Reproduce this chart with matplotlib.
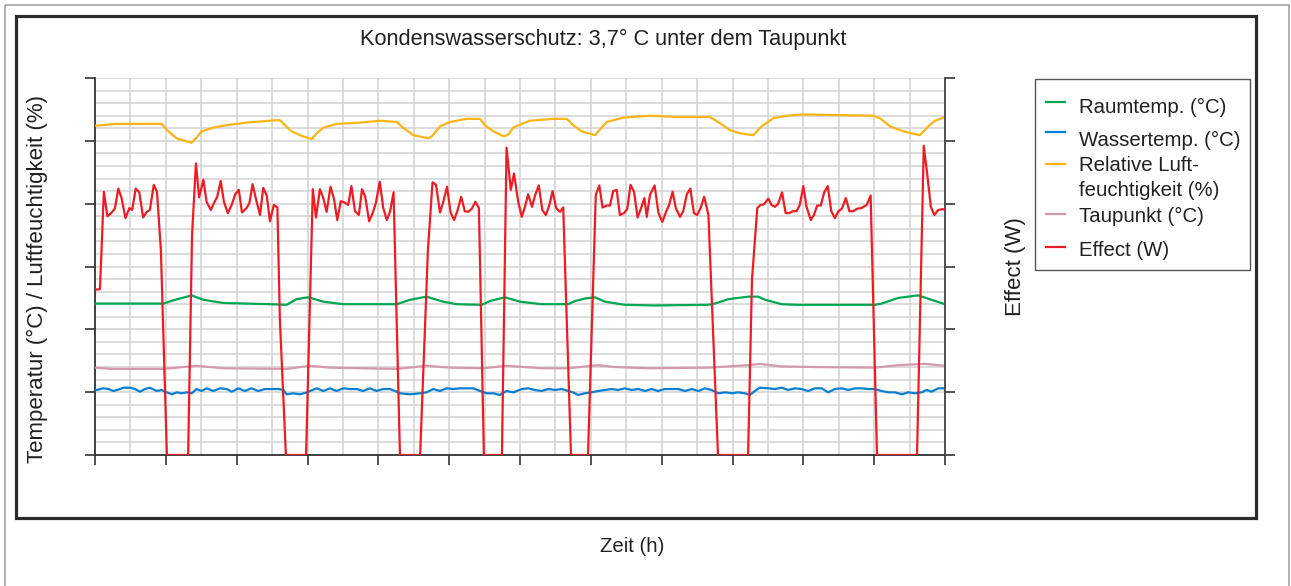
import matplotlib
matplotlib.use("Agg")
import matplotlib.pyplot as plt
from matplotlib.patches import Rectangle
from matplotlib.lines import Line2D
from matplotlib.ticker import MultipleLocator

plt.rcParams['font.family'] = ['Liberation Sans', 'DejaVu Sans']

# ---------------- data ----------------
title = "Kondenswasserschutz: 3,7° C unter dem Taupunkt"
xlabel = "Zeit (h)"
ylabel_left = "Temperatur (°C) / Luftfeuchtigkeit (%)"
ylabel_right = "Effect (W)"
labels = ["Raumtemp. (°C)", "Wassertemp. (°C)", "Relative Luft-\nfeuchtigkeit (%)",
          "Taupunkt (°C)", "Effect (W)"]

raum_h = [0.00, 1.93, 2.26, 2.73, 3.06, 3.62, 4.94, 5.41, 5.69, 6.02, 6.45, 7.01, 8.52, 8.89,
          9.36, 9.83, 10.21, 10.92, 11.15, 11.58, 12.00, 12.61, 13.36, 13.55, 13.83, 14.12,
          14.40, 14.96, 15.81, 17.32, 17.50, 17.88, 18.44, 18.73, 18.92, 19.39, 19.86, 22.02,
          22.21, 22.68, 23.24, 23.62, 24.00]
raum_v = [24.1, 24.1, 24.7, 25.4, 24.7, 24.2, 24.0, 23.9, 24.8, 25.1, 24.4, 24.0, 24.0, 24.7,
          25.2, 24.4, 24.0, 23.9, 24.5, 25.1, 24.4, 24.0, 24.0, 24.5, 24.9, 25.1, 24.4, 23.9,
          23.8, 23.9, 24.1, 24.8, 25.2, 25.2, 24.7, 24.0, 23.9, 23.9, 24.1, 25.0, 25.4, 24.7,
          24.0]

wasser_h = [0.00, 0.05, 0.23, 0.38, 0.52, 0.71, 0.80, 0.99, 1.13, 1.27, 1.41, 1.55, 1.74, 1.88,
            1.98, 2.17, 2.31, 2.45, 2.59, 2.73, 2.87, 3.01, 3.15, 3.34, 3.53, 3.72, 3.86, 4.05,
            4.23, 4.42, 4.61, 4.80, 4.99, 5.18, 5.32, 5.41, 5.60, 5.79, 5.98, 6.07, 6.26, 6.45,
            6.63, 6.82, 7.01, 7.20, 7.39, 7.57, 7.76, 7.95, 8.14, 8.33, 8.47, 8.61, 8.89, 9.18,
            9.36, 9.55, 9.74, 9.93, 10.12, 10.30, 10.49, 10.68, 10.87, 11.06, 11.25, 11.43,
            11.62, 11.81, 11.86, 12.05, 12.23, 12.42, 12.61, 12.80, 12.99, 13.18, 13.36, 13.50,
            13.64, 13.83, 14.02, 14.21, 14.40, 14.59, 14.77, 14.96, 15.15, 15.34, 15.53, 15.72,
            15.90, 16.09, 16.28, 16.47, 16.66, 16.85, 17.04, 17.22, 17.41, 17.60, 17.79, 17.98,
            18.16, 18.35, 18.49, 18.63, 18.77, 19.01, 19.20, 19.39, 19.57, 19.76, 19.95, 20.14,
            20.33, 20.52, 20.70, 20.89, 21.08, 21.27, 21.46, 21.65, 21.83, 22.02, 22.21, 22.40,
            22.59, 22.78, 22.96, 23.15, 23.34, 23.48, 23.62, 23.81, 24.00]
wasser_v = [10.40, 10.35, 10.61, 10.50, 10.19, 10.50, 10.71, 10.71, 10.50, 10.08, 10.50, 10.71,
            10.19, 10.35, 10.08, 9.66, 9.97, 9.82, 9.97, 9.82, 10.50, 10.19, 10.61, 10.19, 10.61,
            10.50, 10.08, 10.61, 10.19, 10.61, 10.19, 10.50, 10.50, 10.50, 10.35, 9.66, 9.82,
            9.66, 9.97, 10.19, 10.61, 10.19, 10.61, 10.19, 10.61, 10.50, 10.50, 10.19, 10.61,
            10.19, 10.50, 10.50, 10.19, 9.82, 9.66, 9.82, 9.97, 10.50, 10.19, 10.61, 10.50,
            10.61, 10.61, 10.61, 10.19, 9.82, 9.82, 9.55, 10.19, 9.97, 10.08, 10.50, 10.61,
            10.35, 10.19, 10.50, 10.35, 10.50, 10.19, 9.97, 9.55, 9.82, 9.97, 10.19, 10.35,
            10.50, 10.35, 10.61, 10.35, 10.50, 10.19, 10.50, 10.19, 10.50, 10.50, 10.50, 10.19,
            10.50, 10.19, 10.61, 10.35, 9.82, 9.97, 9.82, 9.97, 9.82, 9.55, 10.19, 10.71, 10.61,
            10.50, 10.71, 10.35, 10.61, 10.50, 10.19, 10.61, 10.61, 9.97, 10.50, 10.61, 10.35,
            10.61, 10.61, 10.50, 10.50, 10.19, 9.97, 9.97, 9.66, 9.97, 9.82, 9.97, 10.35, 10.08,
            10.61, 10.61]

feuchte_h = [0.00, 0.61, 1.88, 2.07, 2.31, 2.59, 2.73, 2.85, 3.01, 3.34, 3.72, 4.28, 4.94, 5.22,
             5.36, 5.55, 5.88, 6.12, 6.26, 6.45, 6.82, 7.48, 8.05, 8.52, 8.70, 8.99, 9.41, 9.51,
             9.74, 10.02, 10.49, 10.87, 11.01, 11.25, 11.55, 11.67, 11.81, 12.00, 12.28, 12.94,
             13.32, 13.50, 13.74, 14.12, 14.21, 14.45, 14.92, 15.67, 16.42, 17.36, 17.65, 17.93,
             18.21, 18.59, 18.82, 19.15, 19.53, 20.00, 20.94, 21.97, 22.16, 22.45, 22.82, 23.29,
             23.53, 23.72, 24.00]
feuchte_v = [52.4, 52.7, 52.7, 51.5, 50.4, 49.9, 49.7, 50.4, 51.5, 52.1, 52.5, 52.9, 53.2, 53.3,
             52.5, 51.5, 50.7, 50.3, 51.2, 52.1, 52.7, 52.9, 53.2, 53.0, 52.1, 50.9, 50.4, 50.7,
             52.3, 53.0, 53.5, 53.5, 52.5, 51.5, 50.7, 51.0, 52.1, 52.6, 53.2, 53.5, 53.5, 52.5,
             51.5, 50.9, 51.5, 53.0, 53.7, 54.0, 53.8, 53.8, 52.8, 51.7, 51.2, 50.9, 52.3, 53.6,
             54.0, 54.2, 54.1, 54.0, 53.6, 52.3, 51.5, 50.9, 52.3, 53.2, 53.8]

tau_h = [0.00, 0.48, 1.93, 2.87, 3.62, 5.41, 6.07, 6.63, 8.52, 9.36, 10.02, 10.96, 11.62, 12.61,
         13.36, 14.21, 14.68, 15.62, 17.32, 18.44, 18.77, 19.39, 20.33, 22.02, 22.68, 23.43, 24.00]
tau_v = [13.9, 13.7, 13.7, 14.2, 13.8, 13.7, 14.2, 13.9, 13.7, 14.2, 13.9, 13.8, 14.2, 13.8,
         13.8, 14.3, 14.0, 13.8, 13.9, 14.3, 14.5, 14.1, 14.0, 13.9, 14.3, 14.5, 14.2]

effect_h = [0.00, 0.14, 0.25, 0.35, 0.44, 0.56, 0.66, 0.75, 0.86, 0.97, 1.05, 1.15, 1.25, 1.36,
            1.46, 1.55, 1.66, 1.75, 1.86, 2.03, 2.63, 2.74, 2.85, 2.94, 3.06, 3.15, 3.27, 3.36,
            3.45, 3.55, 3.64, 3.75, 3.86, 3.96, 4.06, 4.15, 4.28, 4.36, 4.45, 4.55, 4.66, 4.75,
            4.85, 4.94, 5.05, 5.15, 5.22, 5.39, 5.96, 6.15, 6.24, 6.35, 6.45, 6.54, 6.65, 6.75,
            6.84, 6.94, 7.04, 7.15, 7.24, 7.34, 7.45, 7.54, 7.63, 7.74, 7.84, 7.93, 8.04, 8.14,
            8.24, 8.33, 8.43, 8.61, 9.18, 9.40, 9.53, 9.63, 9.74, 9.83, 9.94, 10.04, 10.14, 10.23,
            10.34, 10.44, 10.54, 10.64, 10.74, 10.84, 10.98, 11.49, 11.62, 11.74, 11.83, 11.95,
            12.05, 12.14, 12.23, 12.34, 12.43, 12.53, 12.63, 12.73, 12.83, 12.92, 13.02, 13.13,
            13.22, 13.44, 13.92, 14.14, 14.24, 14.33, 14.45, 14.54, 14.63, 14.73, 14.82, 14.94,
            15.03, 15.12, 15.22, 15.32, 15.42, 15.51, 15.58, 15.67, 15.80, 15.91, 16.02, 16.11,
            16.21, 16.31, 16.40, 16.52, 16.61, 16.71, 16.81, 16.91, 17.00, 17.10, 17.20, 17.32,
            17.59, 18.44, 18.55, 18.70, 18.79, 18.89, 19.01, 19.10, 19.20, 19.29, 19.40, 19.50,
            19.60, 19.70, 19.81, 19.90, 20.00, 20.09, 20.21, 20.30, 20.39, 20.49, 20.59, 20.69,
            20.79, 20.89, 20.99, 21.09, 21.20, 21.30, 21.41, 21.52, 21.64, 21.79, 21.90, 22.08,
            23.21, 23.40, 23.50, 23.60, 23.70, 23.81, 23.91, 24.00]
effect_w = [26.3, 26.4, 41.9, 38.0, 38.4, 39.2, 42.4, 40.9, 37.7, 39.3, 39.0, 42.4, 41.8, 37.8,
            38.7, 39.0, 43.0, 41.9, 32.6, 0, 0, 35.0, 46.4, 41.0, 43.8, 40.3, 39.0, 40.1, 41.1,
            43.6, 40.3, 38.5, 39.8, 41.5, 42.2, 38.6, 39.3, 40.1, 43.1, 40.6, 38.2, 42.5, 41.3,
            37.2, 39.8, 39.4, 21.5, 0, 0, 42.3, 37.8, 42.3, 40.8, 38.7, 42.7, 40.7, 37.4, 40.4,
            40.2, 39.8, 42.8, 38.8, 38.2, 42.3, 41.1, 37.2, 38.5, 40.1, 43.5, 39.3, 37.4, 38.7,
            41.8, 0, 0, 32.6, 43.4, 43.0, 38.6, 40.2, 42.7, 38.6, 37.4, 38.8, 41.1, 38.8, 38.7,
            39.2, 40.3, 39.3, 0, 0, 48.9, 42.2, 44.8, 40.3, 37.9, 39.5, 41.5, 39.5, 41.4, 42.9,
            39.0, 38.2, 39.8, 42.0, 39.3, 38.7, 39.4, 0, 0, 41.4, 42.9, 39.4, 39.7, 39.7, 42.0,
            42.2, 38.2, 38.5, 39.2, 43.0, 41.9, 37.8, 39.3, 40.9, 37.9, 41.4, 42.9, 38.5, 37.1,
            38.5, 39.8, 41.9, 39.3, 37.9, 38.8, 41.5, 42.4, 38.5, 38.2, 39.3, 41.1, 38.2, 0, 0,
            27.9, 39.3, 39.8, 39.9, 40.8, 39.8, 39.5, 40.0, 41.8, 38.5, 38.5, 38.8, 38.8, 39.8,
            42.8, 39.5, 37.4, 38.2, 39.7, 39.7, 41.8, 42.8, 38.8, 37.7, 38.8, 39.2, 40.9, 38.8,
            38.8, 39.2, 39.3, 39.8, 41.3, 0, 0, 49.2, 44.6, 39.5, 38.2, 39.0, 39.1, 39.1]

# ---------------- styling ----------------
C_GREEN = "#00a651"
C_BLUE = "#0a7ed0"
C_ORANGE = "#fbb416"
C_PINK = "#d39aad"
C_RED = "#ec1c24"
C_TEXT = "#231f20"
GRID = "#d2d2d2"
FS = 14.7
FS_TITLE = 15.7
FS_YLAB = 16.0
LW = 1.6

W, H = 1291, 586
fig = plt.figure(figsize=(W / 100, H / 100), dpi=100)
fig.patch.set_facecolor("white")

L, R, T, B = 95, 945, 78, 455
ax = fig.add_axes([L / W, 1 - B / H, (R - L) / W, (B - T) / H])
ax2 = ax.twinx()

ax.plot(raum_h, raum_v, color=C_GREEN, lw=LW, zorder=3)
ax.plot(wasser_h, wasser_v, color=C_BLUE, lw=LW, zorder=3)
ax.plot(feuchte_h, feuchte_v, color=C_ORANGE, lw=LW, zorder=3)
ax.plot(tau_h, tau_v, color=C_PINK, lw=LW, zorder=3)
ax2.plot(effect_h, effect_w, color=C_RED, lw=LW, zorder=3)

for a in (ax, ax2):
    a.set_xlim(0, 24)
    a.set_ylim(0, 60)
    a.yaxis.set_major_locator(MultipleLocator(10))
    a.yaxis.set_minor_locator(MultipleLocator(2))
ax.xaxis.set_major_locator(MultipleLocator(2))
ax.xaxis.set_minor_locator(MultipleLocator(1))

ax.set_axisbelow(True)
ax.grid(True, which="both", color=GRID, lw=1.1)

ax.tick_params(axis="both", which="major", direction="out", length=7, width=1.2,
               color="#333333", labelleft=False, labelbottom=False, right=False, top=False)
ax.tick_params(axis="both", which="minor", length=0)
ax2.tick_params(axis="y", which="major", direction="out", length=7, width=1.2,
                color="#333333", labelright=False)
ax2.tick_params(axis="y", which="minor", length=0)

for s in ("top", "right"):
    ax.spines[s].set_visible(False)
for s in ("left", "bottom"):
    ax.spines[s].set_color("#333333")
    ax.spines[s].set_linewidth(1.3)
for s in ("top", "left", "bottom"):
    ax2.spines[s].set_visible(False)
ax2.spines["right"].set_color("#444444")
ax2.spines["right"].set_linewidth(1.3)

ax.set_ylabel(ylabel_left, fontsize=FS_YLAB, color=C_TEXT, va="center")
ax.yaxis.set_label_coords((37 - L) / (R - L), (B - 279) / (B - T))
ax2.set_ylabel(ylabel_right, fontsize=FS_YLAB, color=C_TEXT, va="center")
ax2.yaxis.set_label_coords((1016 - L) / (R - L), (B - 267) / (B - T))
ax.set_xlabel(xlabel, fontsize=FS, color=C_TEXT, va="center")
ax.xaxis.set_label_coords((632 - L) / (R - L), (B - 547) / (B - T))

fig.suptitle(title, x=603 / W, y=1 - 45 / H, va="baseline", ha="center",
             fontsize=FS_TITLE, color=C_TEXT)

# ---------------- frame & legend (pixel overlay) ----------------
ov = fig.add_axes([0, 0, 1, 1])
ov.set_xlim(0, W)
ov.set_ylim(H, 0)
ov.axis("off")
ov.add_patch(Rectangle((5, 5), 1283.5, 600, fill=False, ec="#9a9a9a", lw=1.1))
ov.add_patch(Rectangle((16, 16), 1239.5, 501.5, fill=False, ec="#2b2b2b", lw=2.3))

ov.add_patch(Rectangle((1035, 78.5), 215, 191, fill=False, ec="#555555", lw=1.0))
colors = [C_GREEN, C_BLUE, C_ORANGE, C_PINK, C_RED]
handle_y = [101.7, 131.7, 164, 214, 246.7]
text_base = [112.7, 146, 171, 222.3, 256]
for lab, col, hy, ty in zip(labels, colors, handle_y, text_base):
    ov.add_line(Line2D([1046, 1065], [hy, hy], color=col, lw=LW))
    lines = lab.split("\n")
    for k, ln in enumerate(lines):
        ov.text(1079, ty + 25 * k, ln, fontsize=FS, color=C_TEXT, va="baseline", ha="left")

fig.savefig("out.png", dpi=100)
